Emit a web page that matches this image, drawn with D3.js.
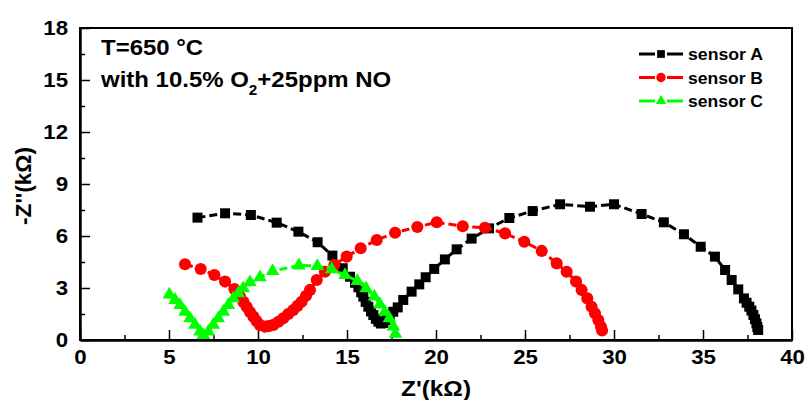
<!DOCTYPE html>
<html>
<head>
<meta charset="utf-8">
<script src="https://d3js.org/d3.v7.min.js"></script>
<style>
  body { margin: 0; background: #fff; }
  text { font-family: "Liberation Sans", Arial, sans-serif; font-weight: bold; }
</style>
</head>
<body>
<div id="chart"></div>
<script>
// sensor A (black squares)
var sensorA = [
  [6.6,7.06],[8.15,7.31],[9.6,7.21],[11.05,6.77],[12.27,6.25],[13.35,5.64],[14.18,4.87],
  [14.76,4.14],[15.17,3.65],[15.45,3.3],[15.64,3.04],[15.8,2.75],[15.92,2.5],[16.05,2.2],
  [16.2,1.92],[16.35,1.65],[16.48,1.44],[16.62,1.22],[16.76,1.06],[16.9,0.95],[17.05,0.98],
  [17.23,1.15],[17.4,1.38],[17.6,1.63],[17.85,1.88],[18.16,2.31],[18.63,2.79],[19.06,3.21],
  [19.42,3.62],[19.9,4.1],[20.5,4.65],[21.16,5.23],[22.0,5.85],[22.98,6.44],[24.12,7.04],
  [25.43,7.44],[26.97,7.83],[28.65,7.69],[30.0,7.83],[31.55,7.27],[32.8,6.79],[33.93,6.1],
  [34.87,5.38],[35.67,4.81],[36.24,4.04],[36.61,3.46],[36.98,2.92],[37.3,2.4],[37.45,2.15],
  [37.6,1.92],[37.72,1.7],[37.83,1.44],[37.92,1.2],[38.0,0.96],[38.05,0.75],[38.1,0.58]
];
// sensor B (red circles)
var sensorB = [
  [5.9,4.37],[6.78,4.1],[7.55,3.75],[8.15,3.37],[8.67,2.94],[8.99,2.5],[9.18,2.2],[9.36,1.92],
  [9.55,1.62],[9.74,1.35],[9.92,1.1],[10.1,0.87],[10.39,0.77],[10.6,0.8],[10.86,0.87],
  [11.15,1.05],[11.42,1.25],[11.7,1.5],[11.98,1.73],[12.22,1.97],[12.45,2.21],[12.7,2.55],
  [12.92,2.89],[13.3,3.46],[13.76,3.94],[14.29,4.33],[14.98,4.81],[15.77,5.29],[16.67,5.77],
  [17.7,6.19],[18.95,6.52],[20.04,6.79],[21.5,6.56],[22.75,6.48],[23.88,6.15],[24.96,5.67],
  [25.94,5.14],[26.78,4.42],[27.34,3.94],[27.87,3.37],[28.18,2.89],[28.5,2.4],[28.74,1.92],
  [28.93,1.54],[29.12,1.15],[29.27,0.77],[29.33,0.55]
];
// sensor C (green triangles)
var sensorC = [
  [5.02,2.62],[5.34,2.31],[5.62,2.02],[5.9,1.63],[6.18,1.25],[6.46,0.87],[6.74,0.48],[6.93,0.29],
  [7.21,0.48],[7.49,0.87],[7.77,1.25],[8.05,1.63],[8.33,2.02],[8.61,2.4],[8.89,2.69],[9.17,2.98],
  [9.55,3.33],[10.11,3.62],[10.82,3.98],[12.3,4.3],[13.33,4.27],[14.14,4.08],[14.89,3.75],
  [15.58,3.4],[16.07,2.98],[16.54,2.5],[16.85,2.05],[17.13,1.63],[17.38,1.25],[17.6,0.77],[17.72,0.35]
];

var seriesNames = ['sensor A', 'sensor B', 'sensor C'];
var seriesColors = ['#000000', '#ff0000', '#00ff00'];
var xTicks = [0, 5, 10, 15, 20, 25, 30, 35, 40];
var yTicks = [0, 3, 6, 9, 12, 15, 18];

var width = 806, height = 400,
    margin = {top: 28, right: 14, bottom: 60, left: 80},
    plotW = width - margin.left - margin.right,
    plotH = height - margin.top - margin.bottom;

var svg = d3.select('#chart').append('svg')
    .attr('width', width)
    .attr('height', height);

var g = svg.append('g')
    .attr('transform', 'translate(' + margin.left + ',' + margin.top + ')');

var x = d3.scaleLinear().domain([0, 40]).range([0, plotW]);
var y = d3.scaleLinear().domain([0, 18]).range([plotH, 0]);

// the original text is a bit wider than Arial, stretch it
function stretch(sel, f) {
    sel.each(function() {
        var w = this.getComputedTextLength();
        d3.select(this).attr('textLength', w * f).attr('lengthAdjust', 'spacingAndGlyphs');
    });
}

// minor ticks
g.append('g')
    .attr('transform', 'translate(0,' + plotH + ')')
    .call(d3.axisBottom(x).tickValues(d3.range(2.5, 40, 5)).tickSize(-5).tickFormat(''))
    .call(function(a) { a.select('.domain').remove(); });
g.append('g')
    .call(d3.axisLeft(y).tickValues(d3.range(1.5, 18, 3)).tickSize(-5).tickFormat(''))
    .call(function(a) { a.select('.domain').remove(); });

// major axes
var xAxis = g.append('g')
    .attr('transform', 'translate(0,' + plotH + ')')
    .call(d3.axisBottom(x).tickValues(xTicks).tickSize(-10).tickSizeOuter(0).tickPadding(9));
var yAxis = g.append('g')
    .call(d3.axisLeft(y).tickValues(yTicks).tickSize(-10).tickSizeOuter(0).tickPadding(12));

[xAxis, yAxis].forEach(function(a) {
    a.selectAll('text').attr('font-size', 21).attr('fill', '#000')
        .style('font-family', '"Liberation Sans", Arial, sans-serif').style('font-weight', 'bold')
        .call(stretch, 1.06);
    a.select('.domain').attr('stroke-width', 2.5);
});
g.selectAll('.tick line').attr('stroke', '#000').attr('stroke-width', 1.5);

// frame
g.append('rect')
    .attr('width', plotW).attr('height', plotH)
    .attr('fill', 'none').attr('stroke', '#000').attr('stroke-width', 2);

// series
var allSeries = [sensorA, sensorB, sensorC];
var symbols = [d3.symbolSquare, d3.symbolCircle, d3.symbolTriangle];
var symSizes = [100, 115, 80];

var line = d3.line().x(function(d) { return x(d[0]); }).y(function(d) { return y(d[1]); });

allSeries.forEach(function(data, i) {
    g.append('path')
        .datum(data)
        .attr('d', line)
        .attr('fill', 'none')
        .attr('stroke', seriesColors[i])
        .attr('stroke-width', 3)
        .attr('stroke-dasharray', '8,4');
    g.selectAll('.pt' + i)
        .data(data)
        .enter().append('path')
        .attr('class', 'pt' + i)
        .attr('transform', function(d) { return 'translate(' + x(d[0]) + ',' + y(d[1]) + ')'; })
        .attr('d', d3.symbol().type(symbols[i]).size(symSizes[i]))
        .attr('fill', seriesColors[i]);
});

// legend
var legend = svg.append('g').attr('transform', 'translate(639,54)');
seriesNames.forEach(function(name, i) {
    var row = legend.append('g').attr('transform', 'translate(0,' + (i * 23.5) + ')');
    row.append('line').attr('x1', 0).attr('x2', 16).attr('stroke', seriesColors[i]).attr('stroke-width', 3);
    row.append('line').attr('x1', 28).attr('x2', 44).attr('stroke', seriesColors[i]).attr('stroke-width', 3);
    row.append('path')
        .attr('transform', 'translate(22,0)')
        .attr('d', d3.symbol().type(symbols[i]).size(symSizes[i] * 0.6))
        .attr('fill', seriesColors[i]);
    row.append('text')
        .attr('x', 49).attr('y', 6)
        .attr('font-size', 17)
        .attr('textLength', 75).attr('lengthAdjust', 'spacingAndGlyphs')
        .text(name);
});

// annotation, widened with a horizontal scale
var note = svg.append('g').attr('transform', 'translate(101,0) scale(1.09,1)');
note.append('text')
    .attr('x', 0).attr('y', 55)
    .attr('font-size', 22)
    .text('T=650 \u00B0C');
var t2 = note.append('text')
    .attr('x', 0).attr('y', 87)
    .attr('font-size', 22);
t2.append('tspan').text('with 10.5% O');
t2.append('tspan').attr('font-size', 14).attr('dy', 8).text('2');
t2.append('tspan').attr('dy', -8).text('+25ppm NO');

// axis titles
svg.append('text')
    .attr('x', 436).attr('y', 396)
    .attr('text-anchor', 'middle')
    .attr('font-size', 22)
    .attr('textLength', 70).attr('lengthAdjust', 'spacingAndGlyphs')
    .text("Z'(k\u03A9)");
svg.append('text')
    .attr('transform', 'translate(31,186) rotate(-90)')
    .attr('text-anchor', 'middle')
    .attr('font-size', 22)
    .attr('textLength', 78).attr('lengthAdjust', 'spacingAndGlyphs')
    .text("-Z''(k\u03A9)");
</script>
</body>
</html>
